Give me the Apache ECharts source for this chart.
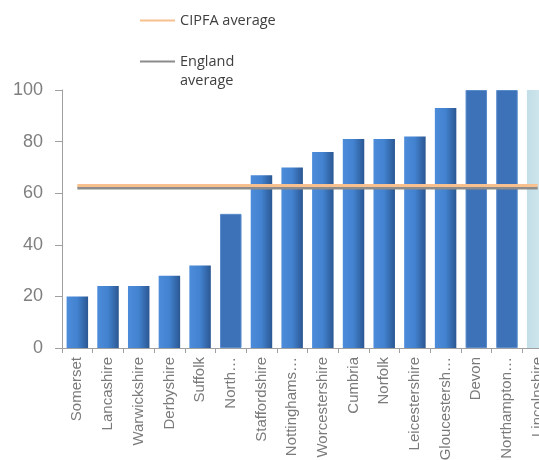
<!DOCTYPE html>
<html>
<head>
<meta charset="utf-8">
<script src="https://cdn.jsdelivr.net/npm/echarts@6/dist/echarts.min.js"></script>
<style>html,body{margin:0;padding:0;background:#fff;}#c{width:539px;height:460px;}</style>
</head>
<body>
<div id="c"></div>
<script>
const categories = ['Somerset','Lancashire','Warwickshire','Derbyshire','Suffolk','North Yorkshire','Staffordshire','Nottinghamshire','Worcestershire','Cumbria','Norfolk','Leicestershire','Gloucestershire','Devon','Northamptonshire','Lincolnshire'];
const tickLabels = ['Somerset','Lancashire','Warwickshire','Derbyshire','Suffolk','North…','Staffordshire','Nottinghams…','Worcestershire','Cumbria','Norfolk','Leicestershire','Gloucestersh…','Devon','Northampton…','Lincolnshire'];
const values = [20,24,24,28,32,52,67,70,76,81,81,82,93,100,100,100];
const cipfaAverage = [63,63,63,63,63,63,63,63,63,63,63,63,63,63,63,63];
const englandAverage = [62,62,62,62,62,62,62,62,62,62,62,62,62,62,62,62];
const yTicks = [0,20,40,60,80,100];

const flatBars = [5,13,14];
const paleBars = [15];

const chart = echarts.init(document.getElementById('c'));
const grad = new echarts.graphic.LinearGradient(0,0,1,0,[
  {offset:0,color:'#4c8cda'},{offset:0.5,color:'#4282cf'},{offset:1,color:'#2b5792'}]);
const pale = new echarts.graphic.LinearGradient(0,0,1,0,[
  {offset:0,color:'#c2dee7'},{offset:1,color:'#d6eaf0'}]);
function barStyle(i){
  if (paleBars.indexOf(i) >= 0) return {color: pale};
  if (flatBars.indexOf(i) >= 0) return {color:'#3d72b9', borderColor:'#5a8ccc', borderWidth:1};
  return {color: grad};
}
const ff = 'Liberation Sans';
chart.setOption({
  animation:false,
  legend:[
    {data:['CIPFA average'], left:140, top:11, padding:0, icon:'rect', itemWidth:35, itemHeight:2, itemGap:4,
     textStyle:{fontFamily:'Open Sans', fontSize:14.5, color:'#404040', lineHeight:19}},
    {data:['England average'], left:140, top:33, padding:0, icon:'rect', itemWidth:35, itemHeight:2,
     formatter:function(){return '\nEngland\naverage';},
     textStyle:{fontFamily:'Open Sans', fontSize:14.5, color:'#404040', lineHeight:19}}
  ],
  grid:{left:62, top:90, width:491, height:258, containLabel:false, outerBoundsMode:'none'},
  xAxis:{
    type:'category', data:categories,
    axisLine:{lineStyle:{color:'#a0a0a0', width:1}},
    axisTick:{show:true, length:5, lineStyle:{color:'#a0a0a0'}},
    axisLabel:{interval:0, rotate:90, margin:9, fontFamily:ff, fontSize:15, color:'#7a7a7a',
      formatter:function(v,i){return tickLabels[i];}}
  },
  yAxis:{
    type:'value', min:yTicks[0], max:yTicks[yTicks.length-1], interval:20,
    splitLine:{show:false},
    axisLine:{show:true, lineStyle:{color:'#a0a0a0'}},
    axisTick:{show:true, length:7, lineStyle:{color:'#a0a0a0'}},
    axisLabel:{margin:19, fontFamily:ff, fontSize:18, color:'#7f7f7f'}
  },
  series:[
    {type:'bar', name:'Value', barWidth:'70%',
     data: values.map(function(v,i){return {value:v, itemStyle:barStyle(i)};})},
    {type:'line', name:'England average', data:englandAverage, symbol:'none',
     lineStyle:{color:'#8c8c8c', width:3}, itemStyle:{color:'#8c8c8c'}, z:3},
    {type:'line', name:'CIPFA average', data:cipfaAverage, symbol:'none',
     lineStyle:{color:'#f9c08f', width:3}, itemStyle:{color:'#f9c08f'}, z:4}
  ]
});
</script>
</body>
</html>
